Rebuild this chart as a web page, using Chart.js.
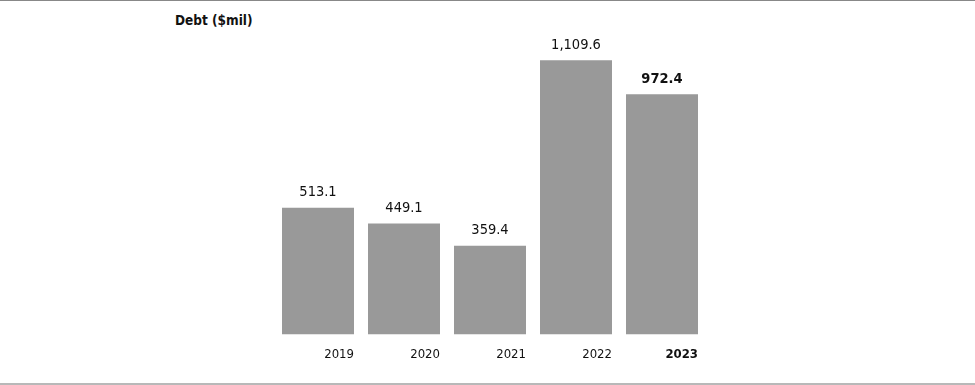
<!DOCTYPE html>
<html><head><meta charset="utf-8">
<script src="https://cdn.jsdelivr.net/npm/chart.js@4"></script>
<style>
html,body{margin:0;padding:0;background:#fff;}
#wrap{position:relative;width:975px;height:385px;overflow:hidden;}
#topline{position:absolute;left:0;top:0;width:975px;height:1px;background:#888;}
#botline{position:absolute;left:0;top:383px;width:975px;height:2px;background:#b8b8b8;}
#title{position:absolute;left:175px;top:11px;font-family:'DejaVu Sans Condensed',sans-serif;font-weight:bold;font-size:13.5px;color:#111;line-height:18px;}
canvas{position:absolute;left:0;top:0;}
</style></head>
<body><div id="wrap">
<div id="topline"></div>
<div id="title">Debt ($mil)</div>
<canvas id="c" width="975" height="385"></canvas>
<div id="botline"></div>
</div>
<script>
const categories = ['2019','2020','2021','2022','2023'];
const debtValues = [513.1, 449.1, 359.4, 1109.6, 972.4];
const valueLabels = ['513.1','449.1','359.4','1,109.6','972.4'];
const boldIndex = 4;
const FONT = "'DejaVu Sans Condensed',sans-serif";

const valueLabelPlugin = {
  id:'valueLabels',
  afterDatasetsDraw(chart){
    const ctx = chart.ctx;
    const meta = chart.getDatasetMeta(0);
    ctx.save();
    ctx.textAlign='center';
    ctx.textBaseline='bottom';
    ctx.fillStyle='#111';
    meta.data.forEach((bar,i)=>{
      ctx.font = (i===boldIndex?'bold ':'') + '14.5px ' + FONT;
      ctx.fillText(valueLabels[i], bar.x, bar.y - 8);
    });
    ctx.restore();
  }
};

new Chart(document.getElementById('c'), {
  type:'bar',
  data:{labels:categories, datasets:[{data:debtValues, backgroundColor:'#999999', borderWidth:0,
    barPercentage:1, categoryPercentage:72/86}]},
  options:{
    responsive:false, animation:false, devicePixelRatio:1,
    layout:{padding:{left:275, right:270, top:38, bottom:11}},
    plugins:{legend:{display:false}, tooltip:{enabled:false}, title:{display:false}},
    scales:{
      x:{grid:{display:false, drawTicks:false}, border:{display:false},
        ticks:{color:'#111', padding:12, align:'end', labelOffset:36, maxRotation:0,
          font:(c)=>({family:FONT, size:13, weight: c.index===boldIndex?'bold':'normal'})}},
      y:{display:false, min:0, max:1200}
    }
  },
  plugins:[valueLabelPlugin]
});
</script>
</body></html>
